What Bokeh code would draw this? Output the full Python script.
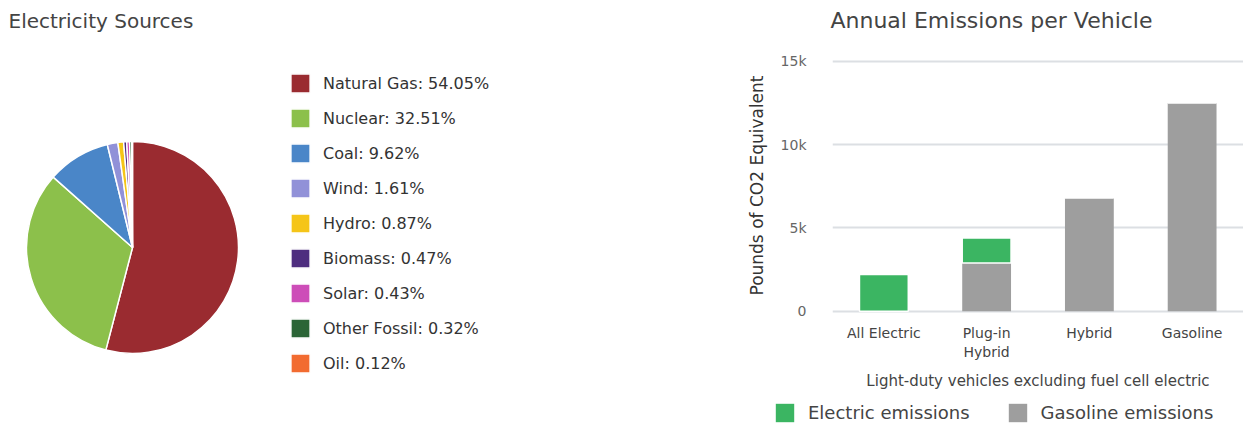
import math
from bokeh.plotting import figure
from bokeh.models import (Range1d, FactorRange, Legend, LegendItem, Label, ColumnDataSource,
                          FixedTicker, NumeralTickFormatter)
from bokeh.transform import stack
from bokeh.layouts import row, column
from bokeh.embed import file_html
from bokeh.resources import INLINE

# ---------------- data ----------------
sources = ["Natural Gas", "Nuclear", "Coal", "Wind", "Hydro", "Biomass", "Solar", "Other Fossil", "Oil"]
shares = [54.05, 32.51, 9.62, 1.61, 0.87, 0.47, 0.43, 0.32, 0.12]
source_colors = ["#9a2b30", "#8cc04b", "#4a86c8", "#9191d8", "#f5c518",
                 "#4e2d7f", "#cd4db8", "#2b6536", "#f26b30"]

vehicles = ["All Electric", "Plug-in\nHybrid", "Hybrid", "Gasoline"]
electric_emissions = [2200, 1500, 0, 0]
gasoline_emissions = [0, 2900, 6800, 12500]
y_ticks = [0, 5000, 10000, 15000]
series_names = ["Electric emissions", "Gasoline emissions"]

FONT = "DejaVu Sans"
GREEN = "#3bb562"
GRAY = "#9e9e9e"

# ---------------- pie ----------------
total = sum(shares)
cum = [0.0]
for s in shares:
    cum.append(cum[-1] + s)
starts = [math.pi / 2 - 2 * math.pi * c / total for c in cum[:-1]]
ends = [math.pi / 2 - 2 * math.pi * c / total for c in cum[1:]]
pie_src = ColumnDataSource(dict(source=sources, share=shares, start=starts, end=ends, color=source_colors))

p1 = figure(width=700, height=426, x_range=Range1d(0, 700), y_range=Range1d(-426, 0),
            output_backend="svg", toolbar_location=None, min_border=0,
            x_axis_location=None, y_axis_location=None)
p1.frame_align = False
p1.grid.visible = False
p1.outline_line_color = None

wedges = p1.wedge(x=132, y=-247, radius=106, start_angle="start", end_angle="end",
                  direction="clock", fill_color="color", line_color="white", line_width=1.5,
                  source=pie_src)

pie_items = [LegendItem(label=f"{s}: {v:.2f}%", renderers=[wedges], index=i)
             for i, (s, v) in enumerate(zip(sources, shares))]
pie_legend = Legend(items=pie_items, location=(288, 51), orientation="vertical",
                    glyph_width=24, glyph_height=24, label_height=24, spacing=11,
                    padding=0, margin=0, label_standoff=11,
                    label_text_font=FONT, label_text_font_size="16px", label_text_color="#333333",
                    border_line_color=None, background_fill_alpha=0)
p1.add_layout(pie_legend)

p1.add_layout(Label(x=8, y=-20, text="Electricity Sources", text_font=FONT, text_font_size="20px",
                    text_baseline="middle", text_align="left", text_color="#444444"))

# ---------------- bar chart title strip ----------------
p0 = figure(width=543, height=40, x_range=Range1d(0, 543), y_range=Range1d(0, 40),
            output_backend="svg", toolbar_location=None, min_border=0,
            x_axis_location=None, y_axis_location=None)
p0.frame_align = False
p0.grid.visible = False
p0.outline_line_color = None
p0.add_layout(Label(x=291, y=20, text="Annual Emissions per Vehicle", text_font=FONT,
                    text_font_size="22px", text_align="center", text_baseline="middle",
                    text_color="#444444"))

# ---------------- bars ----------------
bar_src = ColumnDataSource(dict(vehicle=vehicles, electric=electric_emissions, gasoline=gasoline_emissions))

p2 = figure(width=543, height=355, x_range=FactorRange(factors=vehicles, range_padding=0),
            y_range=Range1d(-200, 15300),
            output_backend="svg", toolbar_location=None,
            min_border_left=132, min_border_right=0, min_border_top=16, min_border_bottom=81)
p2.frame_align = False
p2.outline_line_color = None

r_gas = p2.vbar(x="vehicle", bottom=stack(), top=stack("gasoline"), width=0.475,
                fill_color=GRAY, line_color=None, source=bar_src)
r_el = p2.vbar(x="vehicle", bottom=stack("gasoline"), top=stack("gasoline", "electric"), width=0.475,
               fill_color=GREEN, line_color="white", line_width=1.5, source=bar_src)

p2.xgrid.grid_line_color = None
p2.ygrid.grid_line_color = "#dcdfe3"
p2.ygrid.grid_line_width = 2

xa = p2.xaxis[0]
xa.axis_line_color = None
xa.major_tick_line_color = None
xa.minor_tick_line_color = None
xa.major_label_text_font = FONT
xa.major_label_text_font_size = "14px"
xa.major_label_text_color = "#444444"
xa.major_label_standoff = 4
xa.axis_label = "Light-duty vehicles excluding fuel cell electric"
xa.axis_label_text_font = FONT
xa.axis_label_text_font_style = "normal"
xa.axis_label_text_font_size = "15px"
xa.axis_label_text_color = "#444444"
xa.axis_label_standoff = 9

ya = p2.yaxis[0]
ya.ticker = FixedTicker(ticks=y_ticks)
ya.formatter = NumeralTickFormatter(format="0a")
ya.axis_line_color = None
ya.major_tick_line_color = None
ya.minor_tick_line_color = None
ya.major_label_text_font = FONT
ya.major_label_text_font_size = "14px"
ya.major_label_text_color = "#666666"
ya.major_label_standoff = 20
ya.axis_label = "Pounds of CO2 Equivalent"
ya.axis_label_text_font = FONT
ya.axis_label_text_font_style = "normal"
ya.axis_label_text_font_size = "17px"
ya.axis_label_text_color = "#333333"
ya.axis_label_standoff = 11

# legend strip under the bar chart (its own small canvas, keys only)
p3 = figure(width=543, height=31, x_range=Range1d(0, 543), y_range=Range1d(0, 31),
            output_backend="svg", toolbar_location=None, min_border=0,
            x_axis_location=None, y_axis_location=None)
p3.frame_align = False
p3.grid.visible = False
p3.outline_line_color = None
# zero-size key renderers: they only give the legend its swatches
key_el = p3.vbar(x=[0], bottom=[0], top=[0], width=0, fill_color=GREEN, line_color=None)
key_gas = p3.vbar(x=[0], bottom=[0], top=[0], width=0, fill_color=GRAY, line_color=None)
bar_legend = Legend(items=[LegendItem(label=series_names[0], renderers=[key_el]),
                           LegendItem(label=series_names[1], renderers=[key_gas])],
                    orientation="horizontal", location=(73, 2),
                    glyph_width=23, glyph_height=23, label_height=23, label_standoff=12, spacing=36,
                    padding=0, margin=0,
                    label_text_font=FONT, label_text_font_size="18px", label_text_color="#444444",
                    border_line_color=None, background_fill_alpha=0)
p3.add_layout(bar_legend)

layout = row(p1, column(p0, p2, p3))
open("out.html", "w").write(file_html(layout, INLINE))
